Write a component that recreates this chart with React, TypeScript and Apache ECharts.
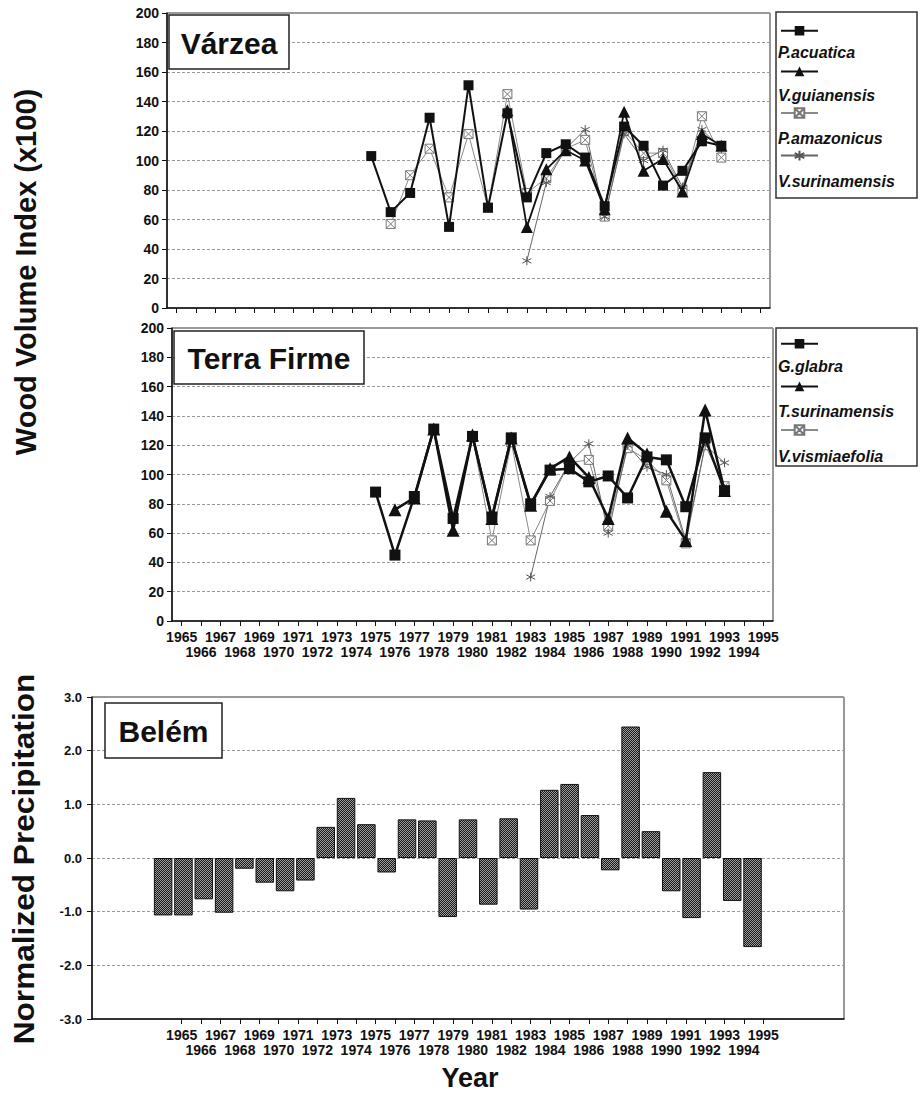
import React, { useEffect, useRef } from "react";
import * as echarts from "echarts";

const FONT = '"Liberation Sans", Arial, Helvetica, sans-serif';

// Category labels of the two line panels (and of the bottom label axis)
const axisYears = [
  "1965", "1966", "1967", "1968", "1969", "1970", "1971", "1972", "1973", "1974",
  "1975", "1976", "1977", "1978", "1979", "1980", "1981", "1982", "1983", "1984",
  "1985", "1986", "1987", "1988", "1989", "1990", "1991", "1992", "1993", "1994", "1995",
];
// Categories of the bar panel (the bar plot spans a wider range than the labels)
const barYears = [
  "1962", "1963", "1964",
  "1965", "1966", "1967", "1968", "1969", "1970", "1971", "1972", "1973", "1974",
  "1975", "1976", "1977", "1978", "1979", "1980", "1981", "1982", "1983", "1984",
  "1985", "1986", "1987", "1988", "1989", "1990", "1991", "1992", "1993", "1994",
  "1995", "1996", "1997", "1998",
];

// Várzea (first value's year given by *Start)
const pAcuaticaStart = 1975;
const pAcuatica = [103, 65, 78, 129, 55, 151, 68, 132, 75, 105, 111, 102, 69, 123, 110, 83, 93, 113, 110];
const vGuianensisStart = 1982;
const vGuianensis = [134, 55, 94, 107, 100, 67, 133, 93, 101, 79, 118, 110];
const pAmazonicusStart = 1976;
const pAmazonicus = [57, 90, 108, 75, 118, 68, 145, 78, 88, 108, 114, 62, 120, 105, 105, 80, 130, 102];
const vSurinamensisStart = 1983;
const vSurinamensis = [32, 85, 108, 121, 62, 118, 100, 107, 82, 121, 108];

// Terra Firme
const gGlabraStart = 1975;
const gGlabra = [88, 45, 85, 131, 70, 126, 71, 125, 80, 103, 104, 95, 99, 84, 112, 110, 78, 125, 89];
const tSurinamensisStart = 1976;
const tSurinamensis = [76, 84, 131, 62, 127, 70, 125, 79, 104, 112, 98, 70, 125, 114, 75, 55, 144, 89];
const vVismiaefoliaStart = 1980;
const vVismiaefolia = [126, 55, 122, 55, 82, 108, 110, 65, 118, 110, 96, 53, 120, 92];
const tfAsteriskStart = 1983;
const tfAsterisk = [30, 85, 108, 121, 60, 120, 105, 100, 55, 120, 108];

// Belém normalized precipitation, 1965-1994
const precipStart = 1965;
const precip = [
  -1.07, -1.07, -0.77, -1.02, -0.2, -0.46, -0.62, -0.42, 0.58, 1.12,
  0.63, -0.27, 0.72, 0.7, -1.1, 0.72, -0.87, 0.74, -0.96, 1.27,
  1.38, 0.8, -0.23, 2.45, 0.5, -0.62, -1.12, 1.6, -0.8, -1.66,
];

const topNames = ["P.acuatica", "V.guianensis", "P.amazonicus", "V.surinamensis"];
const midNames = ["G.glabra", "T.surinamensis", "V.vismiaefolia"];

const BOX_X = "path://M0,0H10V10H0Z M0,0L10,10 M10,0L0,10";
const STAR = "path://M5,0L5,10 M0.7,2.5L9.3,7.5 M0.7,7.5L9.3,2.5";

function yearData(start: number, vals: number[]) {
  return vals.map((v, i) => [String(start + i), v]);
}

function makePattern() {
  const c = document.createElement("canvas");
  c.width = 4;
  c.height = 4;
  const ctx = c.getContext("2d");
  if (ctx) {
    ctx.fillStyle = "#161616";
    ctx.fillRect(0, 0, 4, 4);
    ctx.fillStyle = "#a0a0a0";
    ctx.fillRect(0, 0, 1, 1);
    ctx.fillRect(2, 0, 1, 1);
    ctx.fillRect(1, 1, 1, 1);
    ctx.fillRect(3, 1, 1, 1);
    ctx.fillRect(0, 2, 1, 1);
    ctx.fillRect(2, 2, 1, 1);
    ctx.fillRect(1, 3, 1, 1);
    ctx.fillRect(3, 3, 1, 1);
  }
  return { image: c, repeat: "repeat", imageWidth: 4, imageHeight: 4 } as any;
}

const gridLine = { show: true, lineStyle: { color: "#9a9a9a", type: [3, 2] as any, width: 1 } };
const axisBlack = { show: true, onZero: false, lineStyle: { color: "#111", width: 1.5 } };
const yLabel = { fontFamily: FONT, fontSize: 14, fontWeight: "bold" as const, color: "#111", margin: 8 };
const yearLabel = {
  show: true,
  interval: 0,
  fontFamily: FONT,
  fontSize: 14,
  fontWeight: "bold" as const,
  color: "#111",
  lineHeight: 15,
  margin: 8,
  formatter: (v: string, i: number) => (i % 2 === 0 ? v : "\n" + v),
};

function iconLegend(data: string[], top: number, gap: number) {
  return {
    data,
    orient: "vertical",
    left: 780,
    top,
    padding: 0,
    itemWidth: 37,
    itemHeight: 12,
    itemGap: gap,
    selectedMode: false,
    formatter: () => "",
    textStyle: { fontSize: 8, lineHeight: 10 },
  };
}
function textLegend(data: string[], top: number, gap: number) {
  return {
    data,
    orient: "vertical",
    left: 772,
    top,
    padding: 0,
    icon: "circle",
    itemWidth: 0,
    itemHeight: 0,
    itemGap: gap,
    selectedMode: false,
    textStyle: {
      fontFamily: FONT,
      fontSize: 16,
      fontWeight: "bold",
      fontStyle: "italic",
      color: "#111",
      lineHeight: 18,
    },
  };
}

function panelLabel(text: string, x: number, y: number, w: number, h: number) {
  return {
    type: "group",
    z: 100,
    children: [
      {
        type: "rect",
        shape: { x, y, width: w, height: h },
        style: { fill: "#fff", stroke: "#222", lineWidth: 1.5 },
        z: 100,
      },
      {
        type: "text",
        x: x + w / 2,
        y: y + h / 2 + 1,
        style: {
          text,
          fontFamily: FONT,
          fontSize: 30,
          fontWeight: "bold",
          fill: "#111",
          textAlign: "center",
          textVerticalAlign: "middle",
        },
        z: 101,
      },
    ],
  };
}

export default function App() {
  const ref = useRef<HTMLDivElement>(null);

  useEffect(() => {
    if (!ref.current) return;
    const chart = echarts.init(ref.current, undefined, { renderer: "svg" });

    const lineBase = { type: "line", connectNulls: false };

    const option: any = {
      animation: false,
      backgroundColor: "#fff",
      grid: [
        { left: 167, top: 13, width: 603, height: 295, show: true, borderColor: "#333", borderWidth: 1 },
        { left: 172, top: 328, width: 601, height: 293, show: true, borderColor: "#333", borderWidth: 1 },
        { left: 92, top: 697, width: 752, height: 322, show: true, borderColor: "#333", borderWidth: 1 },
        { left: 172, top: 1000, width: 601, height: 19, show: false },
      ],
      xAxis: [
        {
          gridIndex: 0, type: "category", data: axisYears, boundaryGap: true,
          axisLine: axisBlack,
          axisTick: { show: true, interval: 0, alignWithLabel: true, length: 5, lineStyle: { color: "#111" } },
          axisLabel: { show: false },
        },
        {
          gridIndex: 1, type: "category", data: axisYears, boundaryGap: true,
          axisLine: axisBlack,
          axisTick: { show: true, interval: 0, alignWithLabel: true, length: 5, lineStyle: { color: "#111" } },
          axisLabel: yearLabel,
        },
        {
          gridIndex: 2, type: "category", data: barYears, boundaryGap: true,
          axisLine: axisBlack,
          axisTick: { show: false },
          axisLabel: { show: false },
        },
        {
          gridIndex: 3, type: "category", data: axisYears, boundaryGap: true,
          axisLine: { show: false },
          axisTick: { show: true, interval: 0, alignWithLabel: true, length: 5, lineStyle: { color: "#111" } },
          axisLabel: yearLabel,
        },
      ],
      yAxis: [
        {
          gridIndex: 0, type: "value", min: 0, max: 200, interval: 20,
          axisLine: axisBlack,
          axisTick: { show: true, length: 5, lineStyle: { color: "#111" } },
          axisLabel: yLabel,
          splitLine: gridLine,
        },
        {
          gridIndex: 1, type: "value", min: 0, max: 200, interval: 20,
          axisLine: axisBlack,
          axisTick: { show: true, length: 5, lineStyle: { color: "#111" } },
          axisLabel: yLabel,
          splitLine: gridLine,
        },
        {
          gridIndex: 2, type: "value", min: -3, max: 3, interval: 1,
          axisLine: axisBlack,
          axisTick: { show: true, length: 5, lineStyle: { color: "#111" } },
          axisLabel: { ...yLabel, fontSize: 13, margin: 10, formatter: (v: number) => v.toFixed(1) },
          splitLine: gridLine,
        },
        { gridIndex: 3, type: "value", show: false },
      ],
      legend: [
        iconLegend(topNames, 26, 31),
        textLegend(topNames, 43, 25),
        iconLegend(midNames, 339, 33),
        textLegend(midNames, 357, 27),
      ],
      series: [
        {
          ...lineBase, name: "P.amazonicus", xAxisIndex: 0, yAxisIndex: 0,
          data: yearData(pAmazonicusStart, pAmazonicus),
          symbol: BOX_X, symbolSize: 9,
          lineStyle: { color: "#8a8a8a", width: 1 },
          itemStyle: { color: "#fff", borderColor: "#777", borderWidth: 1 },
          z: 3,
        },
        {
          ...lineBase, name: "V.surinamensis", xAxisIndex: 0, yAxisIndex: 0,
          data: yearData(vSurinamensisStart, vSurinamensis),
          symbol: STAR, symbolSize: 9,
          lineStyle: { color: "#666", width: 1 },
          itemStyle: { color: "#555", borderColor: "#555", borderWidth: 1 },
          z: 3,
        },
        {
          ...lineBase, name: "V.guianensis", xAxisIndex: 0, yAxisIndex: 0,
          data: yearData(vGuianensisStart, vGuianensis),
          symbol: "triangle", symbolSize: 12,
          lineStyle: { color: "#111", width: 1.8 },
          itemStyle: { color: "#111" },
          z: 4,
        },
        {
          ...lineBase, name: "P.acuatica", xAxisIndex: 0, yAxisIndex: 0,
          data: yearData(pAcuaticaStart, pAcuatica),
          symbol: "rect", symbolSize: 10,
          lineStyle: { color: "#111", width: 2 },
          itemStyle: { color: "#111" },
          z: 5,
        },
        {
          ...lineBase, name: "V.vismiaefolia", xAxisIndex: 1, yAxisIndex: 1,
          data: yearData(vVismiaefoliaStart, vVismiaefolia),
          symbol: BOX_X, symbolSize: 9,
          lineStyle: { color: "#8a8a8a", width: 1 },
          itemStyle: { color: "#fff", borderColor: "#777", borderWidth: 1 },
          z: 3,
        },
        {
          ...lineBase, name: "Terra Firme (asterisk)", xAxisIndex: 1, yAxisIndex: 1,
          data: yearData(tfAsteriskStart, tfAsterisk),
          symbol: STAR, symbolSize: 9,
          lineStyle: { color: "#666", width: 1 },
          itemStyle: { color: "#555", borderColor: "#555", borderWidth: 1 },
          z: 3,
        },
        {
          ...lineBase, name: "T.surinamensis", xAxisIndex: 1, yAxisIndex: 1,
          data: yearData(tSurinamensisStart, tSurinamensis),
          symbol: "triangle", symbolSize: 13,
          lineStyle: { color: "#111", width: 2.5 },
          itemStyle: { color: "#111" },
          z: 4,
        },
        {
          ...lineBase, name: "G.glabra", xAxisIndex: 1, yAxisIndex: 1,
          data: yearData(gGlabraStart, gGlabra),
          symbol: "rect", symbolSize: 11,
          lineStyle: { color: "#111", width: 2.5 },
          itemStyle: { color: "#111" },
          z: 5,
        },
        {
          type: "bar", name: "Normalized Precipitation", xAxisIndex: 2, yAxisIndex: 2,
          data: yearData(precipStart, precip),
          barCategoryGap: "9%",
          itemStyle: { color: makePattern(), borderColor: "#111", borderWidth: 1 },
          z: 3,
        },
      ],
      graphic: [
        {
          type: "rect", z: 1,
          shape: { x: 776, y: 12, width: 141, height: 186 },
          style: { fill: "none", stroke: "#333", lineWidth: 1.5 },
        },
        {
          type: "rect", z: 1,
          shape: { x: 776, y: 328, width: 141, height: 138 },
          style: { fill: "none", stroke: "#333", lineWidth: 1.5 },
        },
        panelLabel("Várzea", 169, 15, 120, 54),
        panelLabel("Terra Firme", 174, 331, 190, 53),
        panelLabel("Belém", 105, 703, 117, 55),
        {
          type: "text", x: 26, y: 272, rotation: Math.PI / 2,
          style: {
            text: "Wood Volume Index (x100)", fontFamily: FONT, fontSize: 29, fontWeight: "bold",
            fill: "#111", textAlign: "center", textVerticalAlign: "middle",
          },
        },
        {
          type: "text", x: 24, y: 859, rotation: Math.PI / 2, scaleX: 1.09,
          style: {
            text: "Normalized Precipitation", fontFamily: FONT, fontSize: 29, fontWeight: "bold",
            fill: "#111", textAlign: "center", textVerticalAlign: "middle",
          },
        },
        {
          type: "text", x: 470, y: 1078,
          style: {
            text: "Year", fontFamily: FONT, fontSize: 27, fontWeight: "bold",
            fill: "#111", textAlign: "center", textVerticalAlign: "middle",
          },
        },
      ],
    };

    chart.setOption(option);
    return () => chart.dispose();
  }, []);

  return (
    <div
      ref={ref}
      style={{ position: "absolute", left: 0, top: 0, width: 924, height: 1096, background: "#fff" }}
    />
  );
}
